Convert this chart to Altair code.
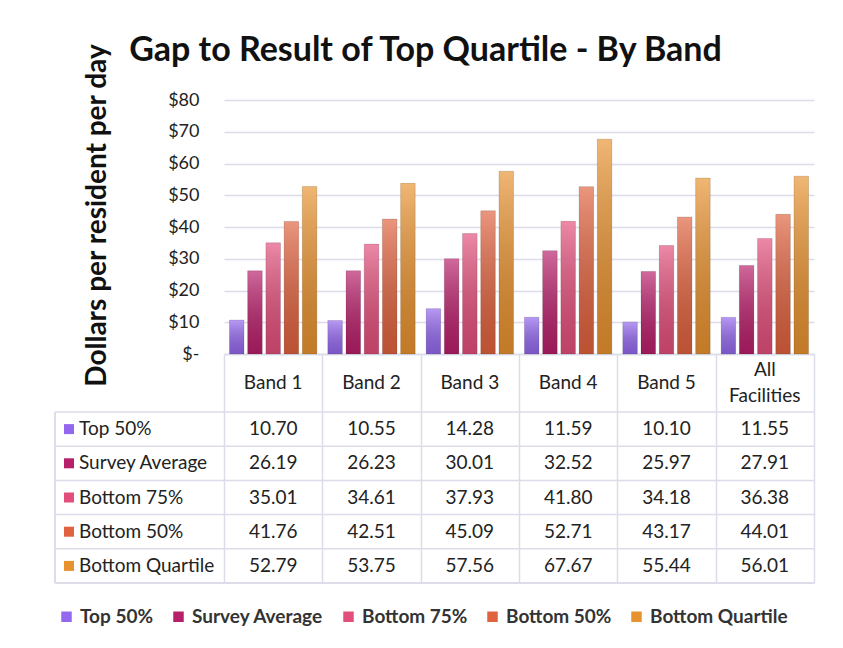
import altair as alt
import pandas as pd

# ---- data ----
bands = ["Band 1", "Band 2", "Band 3", "Band 4", "Band 5", "All Facilities"]
series = ["Top 50%", "Survey Average", "Bottom 75%", "Bottom 50%", "Bottom Quartile"]
top_50 = [10.70, 10.55, 14.28, 11.59, 10.10, 11.55]
survey_average = [26.19, 26.23, 30.01, 32.52, 25.97, 27.91]
bottom_75 = [35.01, 34.61, 37.93, 41.80, 34.18, 36.38]
bottom_50 = [41.76, 42.51, 45.09, 52.71, 43.17, 44.01]
bottom_quartile = [52.79, 53.75, 57.56, 67.67, 55.44, 56.01]
y_ticks = [0, 10, 20, 30, 40, 50, 60, 70, 80]

values = [top_50, survey_average, bottom_75, bottom_50, bottom_quartile]
rows = []
for s, vals in zip(series, values):
    for b, v in zip(bands, vals):
        rows.append({"band": b, "series": s, "value": v})
df = pd.DataFrame(rows)
lab_df = pd.DataFrame({"series": series})
band_df = pd.DataFrame({"band": bands})

colors = ["#9468ee", "#b81f6a", "#e34f7c", "#e0623e", "#e8922f"]
color_scale = alt.Scale(domain=series, range=colors)
grid_c = "#dcdcea"
FONT = "Lato"
W, H = 590, 254
TH = 171
HEAD = 58
NB = "\u00a0"

x_scale = alt.Scale(paddingInner=0, paddingOuter=0)

x_bars = alt.X(
    "band:N", sort=bands, scale=x_scale,
    axis=alt.Axis(
        title=None, tickBand="extent", ticks=True, tickSize=HEAD, tickColor=grid_c,
        tickWidth=1.5, domainColor=grid_c, domainWidth=1.5, labels=False,
    ),
)
x_off = alt.XOffset("series:N", sort=series,
                    scale=alt.Scale(paddingInner=0.2, paddingOuter=0.3))
y_bars = alt.Y(
    "value:Q", scale=alt.Scale(domain=[0, 80]),
    axis=alt.Axis(
        values=y_ticks,
        labelExpr="datum.value == 0 ? '$-" + NB * 4 + "' : '$' + datum.value",
        title="Dollars per resident per day", titleFont=FONT, titleFontSize=28,
        titleFontWeight="bold", titleColor="#111", titlePadding=56, titleY=115,
        ticks=False, domain=False, gridColor=grid_c, gridWidth=1.5,
        labelPadding=25, labelFontSize=18, labelFont=FONT, labelColor="#222",
    ),
)

bars = alt.Chart(df).mark_bar().encode(
    x=x_bars, xOffset=x_off, y=y_bars,
    color=alt.Color(
        "series:N", scale=color_scale, sort=series,
        legend=alt.Legend(
            orient="none", legendX=-167, legendY=H + HEAD + TH + 24,
            direction="horizontal", title=None, symbolType="square",
            symbolSize=110, symbolStrokeWidth=0, labelFontSize=19, labelFont=FONT,
            labelFontWeight="bold", labelColor="#333", columnPadding=15, labelOffset=4,
        ),
    ),
)
sheen = alt.Chart(df).mark_bar(
    color=alt.Gradient(
        gradient="linear", x1=0, x2=0, y1=0, y2=1,
        stops=[alt.GradientStop(color="rgba(255,255,255,0.33)", offset=0),
               alt.GradientStop(color="rgba(0,0,0,0.16)", offset=1)],
    ),
    stroke="#000", strokeOpacity=0.12, strokeWidth=1,
).encode(x=x_bars, xOffset=x_off, y=y_bars)

bar_chart = alt.layer(bars, sheen).properties(width=W, height=H)

# ---- data table ----
tx = alt.X("band:N", sort=bands, scale=x_scale,
           axis=alt.Axis(title=None, labels=False, ticks=False, domain=False, grid=True,
                         tickBand="extent", gridColor=grid_c, gridWidth=1.5))
ty = alt.Y("series:N", sort=series, scale=alt.Scale(paddingInner=0, paddingOuter=0), axis=None)

header_single = alt.Chart(band_df).transform_filter(
    "datum.band != 'All Facilities'"
).mark_text(fontSize=19, font=FONT, color="#222", baseline="middle").encode(
    x=tx, y=alt.value(-HEAD / 2), text="band:N")
header_multi = alt.Chart(band_df).transform_filter(
    "datum.band == 'All Facilities'"
).transform_calculate(
    lines="['All', 'Facilities']"
).mark_text(fontSize=19, font=FONT, color="#222", baseline="middle", lineHeight=26,
            dy=-13).encode(
    x=tx, y=alt.value(-HEAD / 2), text="lines:N")

cells = alt.Chart(df).mark_text(fontSize=19, font=FONT, color="#222").encode(
    x=tx, y=ty, text=alt.Text("value:Q", format=".2f"))
hlines = alt.Chart(lab_df).mark_rule(color=grid_c, strokeWidth=1.5).encode(
    y=alt.Y("series:N", sort=series, bandPosition=0,
            scale=alt.Scale(paddingInner=0, paddingOuter=0), axis=None),
    x=alt.value(-169), x2=alt.value(W))
bottom_line = alt.Chart(lab_df).mark_rule(color=grid_c, strokeWidth=1.5).encode(
    y=alt.value(TH), x=alt.value(-169), x2=alt.value(W))
left_line = alt.Chart(lab_df).mark_rule(color=grid_c, strokeWidth=1.5).encode(
    x=alt.value(-169), y=alt.value(0), y2=alt.value(TH))
row_labels = alt.Chart(lab_df).mark_text(
    align="left", fontSize=19, font=FONT, color="#222").encode(
    x=alt.value(-145), y=ty, text="series:N")
swatches = alt.Chart(lab_df).mark_point(shape="square", filled=True, size=100, opacity=1).encode(
    x=alt.value(-155), y=ty,
    color=alt.Color("series:N", scale=color_scale, sort=series, legend=None))

table = alt.layer(hlines, bottom_line, left_line, cells, row_labels, swatches,
                  header_single, header_multi).properties(width=W, height=TH)

chart = alt.vconcat(bar_chart, table, spacing=HEAD, bounds="flush").properties(
    title=alt.TitleParams(
        "Gap to Result of Top Quartile - By Band", font=FONT, fontSize=34,
        fontWeight="bold", color="#111", anchor="middle", frame="bounds", offset=-25, dx=-9),
    padding={"left": 46, "top": 26, "right": 5, "bottom": 5},
).configure_view(strokeWidth=0)

chart.save("out.html", embed_options={"renderer": "svg", "actions": False})
